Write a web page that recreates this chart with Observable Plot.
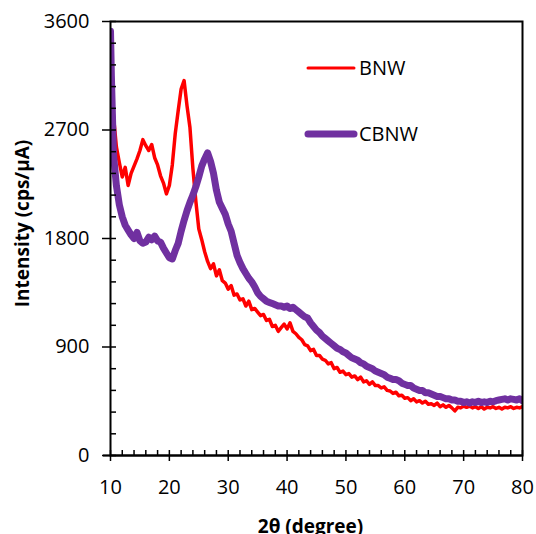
<!DOCTYPE html>
<html>
<head>
<meta charset="utf-8">
<script src="https://cdn.jsdelivr.net/npm/d3@7"></script>
<script src="https://cdn.jsdelivr.net/npm/@observablehq/plot@0.6"></script>
<style>
  html, body { margin: 0; padding: 0; background: white; }
  #wrap { position: relative; width: 536px; height: 534px; overflow: hidden; }
  #legend { position: absolute; left: 0; top: 0; pointer-events: none; }
</style>
</head>
<body>
<div id="wrap"></div>
<script>
// 2θ angles (degree)
const angles = [
  10, 10.15, 10.5, 11, 11.5, 12, 12.5, 13, 13.5, 14,
  14.5, 15, 15.5, 16, 16.5, 17, 17.5, 18, 18.5, 19,
  19.5, 20, 20.5, 21, 21.5, 22, 22.5, 23, 23.5, 24,
  24.5, 25, 25.5, 26, 26.5, 27, 27.5, 28, 28.5, 29,
  29.5, 30, 30.5, 31, 31.5, 32, 32.5, 33, 33.5, 34,
  34.5, 35, 35.5, 36, 36.5, 37, 37.5, 38, 38.5, 39,
  39.5, 40, 40.5, 41, 41.5, 42, 42.5, 43, 43.5, 44,
  44.5, 45, 45.5, 46, 46.5, 47, 47.5, 48, 48.5, 49,
  49.5, 50, 50.5, 51, 51.5, 52, 52.5, 53, 53.5, 54,
  54.5, 55, 55.5, 56, 56.5, 57, 57.5, 58, 58.5, 59,
  59.5, 60, 60.5, 61, 61.5, 62, 62.5, 63, 63.5, 64,
  64.5, 65, 65.5, 66, 66.5, 67, 67.5, 68, 68.5, 69,
  69.5, 70, 70.5, 71, 71.5, 72, 72.5, 73, 73.5, 74,
  74.5, 75, 75.5, 76, 76.5, 77, 77.5, 78, 78.5, 79,
  79.5, 80
];
// BNW intensity (cps/μA)
const bnw = [
  3420, 3000, 2820, 2560, 2430, 2310, 2390, 2240, 2340, 2400,
  2460, 2530, 2620, 2570, 2530, 2580, 2470, 2410, 2320, 2260,
  2170, 2240, 2410, 2670, 2860, 3040, 3110, 2900, 2720, 2380,
  2110, 1880, 1790, 1690, 1610, 1550, 1590, 1490, 1540, 1450,
  1430, 1380, 1410, 1330, 1340, 1290, 1300, 1240, 1280, 1210,
  1220, 1190, 1160, 1170, 1120, 1130, 1070, 1080, 1030, 1060,
  1090, 1050, 1100, 1030, 1010, 980, 960, 920, 910, 870,
  880, 830, 830, 800, 790, 760, 770, 720, 730, 690,
  700, 670, 680, 650, 660, 630, 650, 610, 620, 590,
  610, 580, 580, 560, 570, 540, 535, 515, 525, 495,
  500, 475, 480, 455, 470, 445, 455, 435, 450, 425,
  430, 415, 435, 405, 420, 400, 415, 395, 370, 400,
  395, 410, 400, 410, 395, 405, 390, 405, 385, 400,
  395, 405, 390, 400, 385, 400, 395, 405, 390, 400,
  395, 405
];
// CBNW intensity (cps/μA)
const cbnw = [
  3520, 3150, 2500, 2240, 2080, 1980, 1910, 1870, 1830, 1800,
  1850, 1780, 1760, 1770, 1810, 1790, 1820, 1780, 1770, 1720,
  1680, 1640, 1630, 1700, 1760, 1860, 1950, 2030, 2100, 2160,
  2230, 2310, 2400, 2460, 2510, 2440, 2340, 2200, 2100, 2050,
  2000, 1920, 1860, 1760, 1660, 1600, 1550, 1510, 1470, 1440,
  1400, 1350, 1320, 1300, 1280, 1270, 1260, 1250, 1240, 1240,
  1230, 1240, 1220, 1230, 1210, 1190, 1170, 1150, 1140, 1100,
  1070, 1040, 1020, 990, 970, 950, 930, 910, 890, 880,
  860, 850, 830, 810, 800, 790, 770, 760, 740, 730,
  720, 700, 690, 680, 670, 650, 640, 630, 630, 620,
  600, 590, 580, 580, 560, 550, 540, 540, 520, 520,
  510, 500, 490, 490, 480, 470, 470, 460, 460, 450,
  450, 440, 445, 435, 445, 440, 450, 440, 445, 440,
  450, 445, 455, 460, 465, 470, 460, 470, 465, 460,
  470, 455
];
const seriesNames = ["BNW", "CBNW"];
const seriesColors = ["#FF0000", "#7030A0"];
const xMajor = [10, 20, 30, 40, 50, 60, 70, 80];
const xMinor = [10,12,14,16,18,20,22,24,26,28,30,32,34,36,38,40,42,44,46,48,50,52,54,56,58,60,62,64,66,68,70,72,74,76,78,80];
const yMajor = [0, 900, 1800, 2700, 3600];
const yMinor = [0,180,360,540,720,900,1080,1260,1440,1620,1800,1980,2160,2340,2520,2700,2880,3060,3240,3420,3600];
const xLabel = "2θ (degree)";
const yLabel = "Intensity (cps/μA)";

const dataBNW = angles.map((a, i) => ({angle: a, value: bnw[i]}));
const dataCBNW = angles.map((a, i) => ({angle: a, value: cbnw[i]}));

const W = 536, H = 534, mL = 110, mR = 14, mT = 21, mB = 79;
const frameW = W - mL - mR, frameH = H - mT - mB;

const chart = Plot.plot({
  width: W,
  height: H,
  marginLeft: mL,
  marginRight: mR,
  marginTop: mT,
  marginBottom: mB,
  style: {fontFamily: "'Open Sans', sans-serif", fontSize: "20px", color: "black", background: "white", overflow: "visible"},
  x: {domain: [10, 80]},
  y: {domain: [0, 3600]},
  marks: [
    Plot.line(dataBNW, {x: "angle", y: "value", stroke: seriesColors[0], strokeWidth: 3.5, strokeLinejoin: "round", clip: true}),
    Plot.line(dataCBNW, {x: "angle", y: "value", stroke: seriesColors[1], strokeWidth: 7, strokeLinejoin: "round", strokeLinecap: "round", clip: true}),
    Plot.frame({stroke: "black", strokeWidth: 2}),
    Plot.ruleY([0], {stroke: "black", strokeWidth: 2, insetLeft: -7}),
    // inner minor ticks
    Plot.tickY(yMinor, {y: d => d, insetRight: frameW - 6, stroke: "black", strokeWidth: 1.5}),
    Plot.tickX(xMinor, {x: d => d, insetTop: frameH - 5, stroke: "black", strokeWidth: 1.5}),
    // outer major ticks + labels
    Plot.axisY(yMajor, {tickSize: 8, tickPadding: 13, label: null, strokeWidth: 1.5, fill: "black", tickFormat: d => String(d)}),
    Plot.axisX(xMajor, {tickSize: 6, tickPadding: 18, label: null, strokeWidth: 1.5, fill: "black", tickFormat: d => String(d)}),
    Plot.text([yLabel], {frameAnchor: "left", textAnchor: "middle", rotate: -90, dx: -88, dy: -15, fontWeight: "bold", fontSize: 19, fill: "black"}),
    Plot.text([xLabel], {frameAnchor: "bottom", textAnchor: "middle", dx: -6, dy: 64, lineAnchor: "top", fontWeight: "bold", fontSize: 19, fill: "black"})
  ]
});
const wrap = document.getElementById("wrap");
wrap.appendChild(chart);

// Legend overlay
const ns = "http://www.w3.org/2000/svg";
const leg = document.createElementNS(ns, "svg");
leg.setAttribute("id", "legend");
leg.setAttribute("width", W);
leg.setAttribute("height", H);
const legRows = [
  {y: 68, w: 3},
  {y: 134, w: 7}
];
seriesNames.forEach((name, i) => {
  const ln = document.createElementNS(ns, "line");
  ln.setAttribute("x1", 308); ln.setAttribute("x2", 354);
  ln.setAttribute("y1", legRows[i].y); ln.setAttribute("y2", legRows[i].y);
  ln.setAttribute("stroke", seriesColors[i]);
  ln.setAttribute("stroke-width", legRows[i].w);
  ln.setAttribute("stroke-linecap", "round");
  leg.appendChild(ln);
  const tx = document.createElementNS(ns, "text");
  tx.setAttribute("x", 359);
  tx.setAttribute("y", legRows[i].y);
  tx.setAttribute("dy", "0.35em");
  tx.setAttribute("font-family", "'Open Sans', sans-serif");
  tx.setAttribute("font-size", 20);
  tx.setAttribute("fill", "black");
  tx.textContent = name;
  leg.appendChild(tx);
});
wrap.appendChild(leg);
</script>
</body>
</html>
